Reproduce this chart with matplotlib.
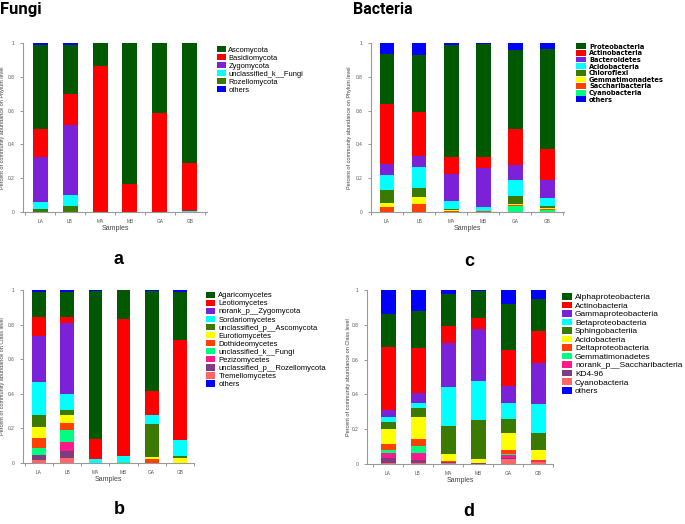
import matplotlib
matplotlib.use('Agg')
import matplotlib.pyplot as plt
from matplotlib.patches import Patch
import numpy as np

samples = ['LA', 'LB', 'MA', 'MB', 'GA', 'GB']

# colours used across the four panels
DKGREEN = '#005800'
RED = '#ff0000'
PURPLE = '#7b22d8'
CYAN = '#00ffff'
OLIVE = '#3a7a00'
YELLOW = '#ffff00'
ORANGE = '#ff4000'
SPRING = '#00ff80'
PINK = '#ff1a8c'
PLUM = '#803c80'
SALMON = '#ff6666'
BLUE = '#0000ff'

# a) fungi, phylum level (legend order, values per sample)
fungi_phylum = ['Ascomycota', 'Basidiomycota', 'Zygomycota',
                'unclassified_k__Fungi', 'Rozellomycota', 'others']
fungi_phylum_colors = [DKGREEN, RED, PURPLE, CYAN, OLIVE, BLUE]
ascomycota = [0.497, 0.292, 0.136, 0.836, 0.414, 0.712]
basidiomycota = [0.166, 0.185, 0.864, 0.164, 0.586, 0.283]
zygomycota = [0.266, 0.410, 0.0, 0.0, 0.0, 0.0]
unclass_fungi = [0.041, 0.069, 0.0, 0.0, 0.0, 0.005]
rozellomycota = [0.020, 0.034, 0.0, 0.0, 0.0, 0.0]
others_a = [0.010, 0.010, 0.0, 0.0, 0.0, 0.0]

# c) bacteria, phylum level
bact_phylum = ['Proteobacteria', 'Actinobacteria', 'Bacteroidetes',
               'Acidobacteria', 'Chloroflexi', 'Gemmatimonadetes',
               'Saccharibacteria', 'Cyanobacteria', 'others']
bact_phylum_colors = [DKGREEN, RED, PURPLE, CYAN, OLIVE, YELLOW,
                      ORANGE, SPRING, BLUE]
proteobacteria = [0.296, 0.341, 0.667, 0.669, 0.468, 0.592]
actinobacteria = [0.357, 0.257, 0.100, 0.065, 0.209, 0.184]
bacteroidetes = [0.063, 0.069, 0.160, 0.230, 0.089, 0.102]
acidobacteria = [0.089, 0.120, 0.045, 0.020, 0.094, 0.051]
chloroflexi = [0.081, 0.053, 0.008, 0.004, 0.047, 0.010]
gemmatimonadetes = [0.023, 0.046, 0.005, 0.001, 0.010, 0.006]
saccharibacteria = [0.028, 0.045, 0.003, 0.001, 0.006, 0.006]
cyanobacteria = [0.0, 0.0, 0.002, 0.002, 0.034, 0.012]
others_c = [0.063, 0.069, 0.010, 0.008, 0.043, 0.037]

# b) fungi, class level
fungi_class = ['Agaricomycetes', 'Leotiomycetes', 'norank_p__Zygomycota',
               'Sordariomycetes', 'unclassified_p__Ascomycota',
               'Eurotiomycetes', 'Dothideomycetes', 'unclassified_k__Fungi',
               'Pezizomycetes', 'unclassified_p__Rozellomycota',
               'Tremellomycetes', 'others']
fungi_class_colors = [DKGREEN, RED, PURPLE, CYAN, OLIVE, YELLOW, ORANGE,
                      SPRING, PINK, PLUM, SALMON, BLUE]
agaricomycetes = [0.142, 0.148, 0.857, 0.168, 0.578, 0.277]
leotiomycetes = [0.108, 0.033, 0.116, 0.793, 0.135, 0.582]
norank_zygo = [0.268, 0.408, 0.0, 0.0, 0.0, 0.0]
sordariomycetes = [0.192, 0.093, 0.021, 0.035, 0.054, 0.089]
unclass_asco = [0.070, 0.029, 0.0, 0.0, 0.192, 0.013]
eurotiomycetes = [0.060, 0.048, 0.0, 0.0, 0.012, 0.029]
dothideomycetes = [0.059, 0.038, 0.0, 0.0, 0.021, 0.0]
unclass_k_fungi = [0.041, 0.070, 0.0, 0.004, 0.0, 0.0]
pezizomycetes = [0.0, 0.054, 0.0, 0.0, 0.0, 0.0]
unclass_rozello = [0.027, 0.038, 0.0, 0.0, 0.0, 0.0]
tremellomycetes = [0.019, 0.031, 0.0, 0.0, 0.0, 0.0]
others_b = [0.014, 0.010, 0.006, 0.0, 0.008, 0.010]

# d) bacteria, class level
bact_class = ['Alphaproteobacteria', 'Actinobacteria', 'Gammaproteobacteria',
              'Betaproteobacteria', 'Sphingobacteriia', 'Acidobacteria',
              'Deltaproteobacteria', 'Gemmatimonadetes',
              'norank_p__Saccharibacteria', 'KD4-96', 'Cyanobacteria',
              'others']
bact_class_colors = fungi_class_colors
alphaproteo = [0.194, 0.215, 0.186, 0.155, 0.263, 0.188]
actino_cls = [0.357, 0.255, 0.096, 0.063, 0.207, 0.179]
gammaproteo = [0.042, 0.058, 0.254, 0.296, 0.098, 0.239]
betaproteo = [0.029, 0.030, 0.224, 0.223, 0.092, 0.164]
sphingo = [0.039, 0.052, 0.159, 0.228, 0.082, 0.099]
acido_cls = [0.086, 0.123, 0.043, 0.020, 0.097, 0.056]
deltaproteo = [0.034, 0.040, 0.002, 0.002, 0.020, 0.005]
gemma_cls = [0.022, 0.045, 0.001, 0.001, 0.010, 0.002]
norank_sacch = [0.028, 0.040, 0.002, 0.001, 0.014, 0.004]
kd4_96 = [0.028, 0.017, 0.007, 0.001, 0.006, 0.004]
cyano_cls = [0.005, 0.004, 0.003, 0.002, 0.030, 0.010]
others_d = [0.136, 0.121, 0.023, 0.008, 0.081, 0.050]

W, H = 685, 524
fig = plt.figure(figsize=(W / 100, H / 100), dpi=100)
plt.rcParams['font.family'] = ['Liberation Sans', 'DejaVu Sans']


def px_axes(l, t, r, b):
    return fig.add_axes([l / W, 1 - b / H, (r - l) / W, (b - t) / H])


def draw_panel(ax, names, colors, series, ylabel, xlim, width, leg, labelpad):
    x = np.arange(len(samples))
    # bottom of the stack is the end of the legend, "others" sits on top
    order = list(range(len(names) - 2, -1, -1)) + [len(names) - 1]
    bottom = np.zeros(len(samples))
    for i in order:
        vals = np.array(series[i])
        ax.bar(x, vals, width, bottom=bottom, color=colors[i], linewidth=0)
        bottom += vals
    ax.set_xlim(*xlim)
    ax.set_ylim(0, 1)
    ax.set_yticks([0, 0.2, 0.4, 0.6, 0.8, 1])
    ax.set_yticklabels(['0', '0.2', '0.4', '0.6', '0.8', '1'])
    ax.set_xticks(x)
    ax.set_xticklabels(samples)
    ax.set_xticks(np.arange(-0.5, len(samples), 1), minor=True)
    ax.tick_params(axis='x', which='major', length=0, labelsize=3.5,
                   pad=5, colors='#555555')
    ax.tick_params(axis='x', which='minor', length=2, width=0.6,
                   color='#888888')
    ax.tick_params(axis='y', length=2, width=0.6, labelsize=3.5, pad=4,
                   color='#888888', labelcolor='#555555')
    for s in ['top', 'right']:
        ax.spines[s].set_visible(False)
    for s in ['left', 'bottom']:
        ax.spines[s].set_color('#999999')
        ax.spines[s].set_linewidth(0.8)
    ax.set_xlabel('Samples', fontsize=5, color='#444444', labelpad=1)
    ax.set_ylabel(ylabel, fontsize=4, color='#444444', labelpad=labelpad)
    handles = [Patch(facecolor=c, edgecolor='none') for c in colors]
    fs = leg['fs']
    fs_px = fs * 100 / 72
    ax.legend(handles, names, loc='upper left',
              bbox_to_anchor=(leg['x'] / W, 1 - leg['y'] / H),
              bbox_transform=fig.transFigure, frameon=False,
              borderpad=0, borderaxespad=0,
              prop={'family': leg['family'], 'size': fs,
                    'weight': leg.get('weight', 'normal')},
              handlelength=leg['hw'] / fs_px, handleheight=leg['hh'] / fs_px,
              handletextpad=leg['pad'] / fs_px,
              labelspacing=leg['ls'])


ax_a = px_axes(23, 43, 207, 212)
draw_panel(ax_a, fungi_phylum, fungi_phylum_colors,
           [ascomycota, basidiomycota, zygomycota, unclass_fungi,
            rozellomycota, others_a],
           'Percent of community abundance on Phylum level',
           (-0.57, 5.57), 0.5,
           dict(x=217, y=46, fs=5.4, family='Liberation Sans', hw=9.3, hh=6.7,
                pad=2, ls=0.05), 2)

ax_c = px_axes(371, 43, 564, 212)
draw_panel(ax_c, bact_phylum, bact_phylum_colors,
           [proteobacteria, actinobacteria, bacteroidetes, acidobacteria,
            chloroflexi, gemmatimonadetes, saccharibacteria, cyanobacteria,
            others_c],
           'Percent of community abundance on Phylum level',
           (-0.45, 5.52), 0.46,
           dict(x=576, y=43.5, fs=4.8, family='DejaVu Sans', weight='bold',
                hw=10, hh=6.3, pad=3, ls=0.07), 3)

ax_b = px_axes(23, 290, 194, 463)
draw_panel(ax_b, fungi_class, fungi_class_colors,
           [agaricomycetes, leotiomycetes, norank_zygo, sordariomycetes,
            unclass_asco, eurotiomycetes, dothideomycetes, unclass_k_fungi,
            pezizomycetes, unclass_rozello, tremellomycetes, others_b],
           'Percent of community abundance on Class level',
           (-0.57, 5.48), 0.48,
           dict(x=206, y=291.5, fs=5.5, family='Liberation Sans', hw=9.3, hh=7,
                pad=3, ls=0.03), 2)

ax_d = px_axes(367, 290, 553, 464)
draw_panel(ax_d, bact_class, bact_class_colors,
           [alphaproteo, actino_cls, gammaproteo, betaproteo, sphingo,
            acido_cls, deltaproteo, gemma_cls, norank_sacch, kd4_96,
            cyano_cls, others_d],
           'Percent of community abundance on Class level',
           (-0.7, 5.5), 0.5,
           dict(x=562, y=293, fs=6, family='Liberation Sans', hw=10, hh=7.3,
                pad=3, ls=0.03), 0.5)

# headings and panel letters
fig.text(0 / W, 1 - 2 / H, 'Fungi', ha='left', va='top', fontsize=12,
         fontweight='bold', family='Roboto')
fig.text(353 / W, 1 - 2 / H, 'Bacteria', ha='left', va='top', fontsize=11.5,
         fontweight='bold', family='Roboto')
for letter, xp, yp in [('a', 119, 259), ('c', 469, 261),
                       ('b', 119, 510), ('d', 469, 512)]:
    fig.text(xp / W, 1 - yp / H, letter, ha='center', va='center',
             fontsize=13, fontweight='bold')

fig.savefig('out.png', dpi=100)
